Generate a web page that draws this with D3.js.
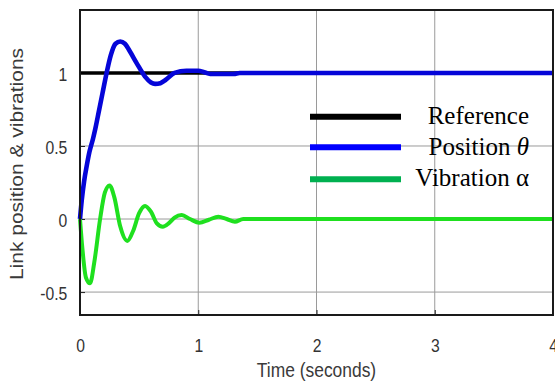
<!DOCTYPE html>
<html>
<head>
<meta charset="utf-8">
<script src="https://cdn.jsdelivr.net/npm/d3@7"></script>
<style>
  body { margin: 0; background: #fff; }
  svg { display: block; }
</style>
</head>
<body>
<div id="chart"></div>
<script>
var width = 555;
var height = 385;
var margin = {top: 10, right: 2, bottom: 70, left: 80};

// time axis and value axis
var xTicks = [0, 1, 2, 3, 4];
var yTicks = [-0.5, 0, 0.5, 1];
var yTickLabels = ["-0.5", "0", "0.5", "1"];

// reference step
var refTime = [0, 4];
var refValue = [1, 1];

// link position theta
var posTime = [0, 0.015, 0.035, 0.056, 0.08, 0.11, 0.13, 0.16, 0.19, 0.225, 0.26, 0.3, 0.34, 0.38, 0.42, 0.48, 0.55, 0.6, 0.635, 0.68, 0.72, 0.8, 0.9, 1.0, 1.05, 1.1, 1.3, 1.35, 4];
var posValue = [0, 0.13, 0.26, 0.36, 0.46, 0.55, 0.62, 0.74, 0.86, 1.0, 1.12, 1.2, 1.215, 1.2, 1.15, 1.066, 0.975, 0.935, 0.925, 0.93, 0.95, 1.0, 1.015, 1.015, 1.005, 0.993, 0.993, 1.0, 1.0];

// vibration alpha
var vibTime = [0, 0.02, 0.05, 0.085, 0.12, 0.17, 0.21, 0.25, 0.29, 0.34, 0.4, 0.45, 0.5, 0.55, 0.6, 0.65, 0.7, 0.75, 0.8, 0.86, 0.93, 1.01, 1.09, 1.17, 1.24, 1.31, 1.38, 4];
var vibValue = [0, -0.2, -0.4, -0.44, -0.3, 0, 0.18, 0.23, 0.15, -0.05, -0.15, -0.08, 0.04, 0.09, 0.05, -0.03, -0.053, -0.03, 0.01, 0.027, 0, -0.025, -0.005, 0.016, 0, -0.018, 0, 0];

var legendNames = ["Reference", "Position ", "Vibration α"];
var legendColors = ["#000000", "#0000ff", "#00b050"];

var svg = d3.select("#chart").append("svg")
  .attr("width", width)
  .attr("height", height);

var x = d3.scaleLinear().domain([0, 4]).range([margin.left, width - margin.right - 0]);
var y = d3.scaleLinear().domain([-0.657, 1.431]).range([height - margin.bottom, margin.top]);

var plotW = x(4) - x(0);
var plotH = y(-0.657) - y(1.431);

// grid
svg.append("g").selectAll("line").data(xTicks.slice(1, 4)).enter().append("line")
  .attr("x1", d => x(d)).attr("x2", d => x(d))
  .attr("y1", y.range()[1]).attr("y2", y.range()[0])
  .attr("stroke", "#9a9a9a").attr("stroke-width", 1);
svg.append("g").selectAll("line").data(yTicks).enter().append("line")
  .attr("x1", x(0)).attr("x2", x(4))
  .attr("y1", d => y(d)).attr("y2", d => y(d))
  .attr("stroke", "#9a9a9a").attr("stroke-width", 1);

// axes (ticks pointing in)
var xAxis = svg.append("g")
  .attr("transform", "translate(0," + y.range()[0] + ")")
  .call(d3.axisBottom(x).tickValues(xTicks).tickSize(-5).tickPadding(24).tickFormat(d3.format("d")));
var yAxis = svg.append("g")
  .attr("transform", "translate(" + x(0) + ",0)")
  .call(d3.axisLeft(y).tickValues(yTicks).tickSize(-5).tickPadding(15).tickFormat((d, i) => yTickLabels[i]));

[xAxis, yAxis].forEach(function(a) {
  a.select(".domain").remove();
  a.selectAll("line").attr("stroke", "#222");
  a.selectAll("text")
    .attr("fill", "#333")
    .style("font-family", "'Liberation Sans', Arial, sans-serif")
    .style("font-size", "18.5px");
});
xAxis.selectAll("text").attr("transform", "scale(0.85,1)");
yAxis.selectAll("text").attr("transform", "scale(0.85,1)").attr("dy", "0.4em");

// lines
var line = d3.line()
  .x(d => x(d[0]))
  .y(d => y(d[1]))
  .curve(d3.curveMonotoneX);

function drawSeries(ts, vs, color, w) {
  svg.append("path")
    .datum(d3.zip(ts, vs))
    .attr("fill", "none")
    .attr("stroke", color)
    .attr("stroke-width", w)
    .attr("stroke-linejoin", "round")
    .attr("d", line);
}
drawSeries(refTime, refValue, "#000000", 3.6);
drawSeries(vibTime, vibValue, "#1fe01f", 4);
drawSeries(posTime, posValue, "#0505d8", 4.6);

// frame
svg.append("rect")
  .attr("x", x(0)).attr("y", y.range()[1])
  .attr("width", plotW).attr("height", plotH)
  .attr("fill", "none").attr("stroke", "#1a1a1a").attr("stroke-width", 2);

// axis titles
svg.append("text")
  .attr("transform", "translate(" + x(2) + ",377) scale(0.83,1)")
  .attr("text-anchor", "middle")
  .attr("fill", "#3a3a3a")
  .style("font-family", "'Liberation Sans', Arial, sans-serif")
  .style("font-size", "21px")
  .text("Time (seconds)");

svg.append("text")
  .attr("transform", "translate(23,164) scale(0.83,1) rotate(-90)")
  .attr("text-anchor", "middle")
  .attr("fill", "#3a3a3a")
  .style("font-family", "'Liberation Sans', Arial, sans-serif")
  .style("font-size", "21px")
  .text("Link position & vibrations");

// legend
var legY = [116.7, 147.3, 179.3];
var legBase = [124.3, 155, 185.7];
var leg = svg.append("g");
legendNames.forEach(function(n, i) {
  leg.append("line")
    .attr("x1", 310).attr("x2", 401)
    .attr("y1", legY[i]).attr("y2", legY[i])
    .attr("stroke", legendColors[i]).attr("stroke-width", 6);
  var t = leg.append("text")
    .attr("x", 529).attr("y", legBase[i])
    .attr("text-anchor", "end")
    .attr("fill", "#000")
    .style("font-family", "'Liberation Serif', 'Times New Roman', serif")
    .style("font-size", "25px")
    .text(n);
  if (i == 1) t.append("tspan").style("font-style", "italic").text("θ");
});
</script>
</body>
</html>
